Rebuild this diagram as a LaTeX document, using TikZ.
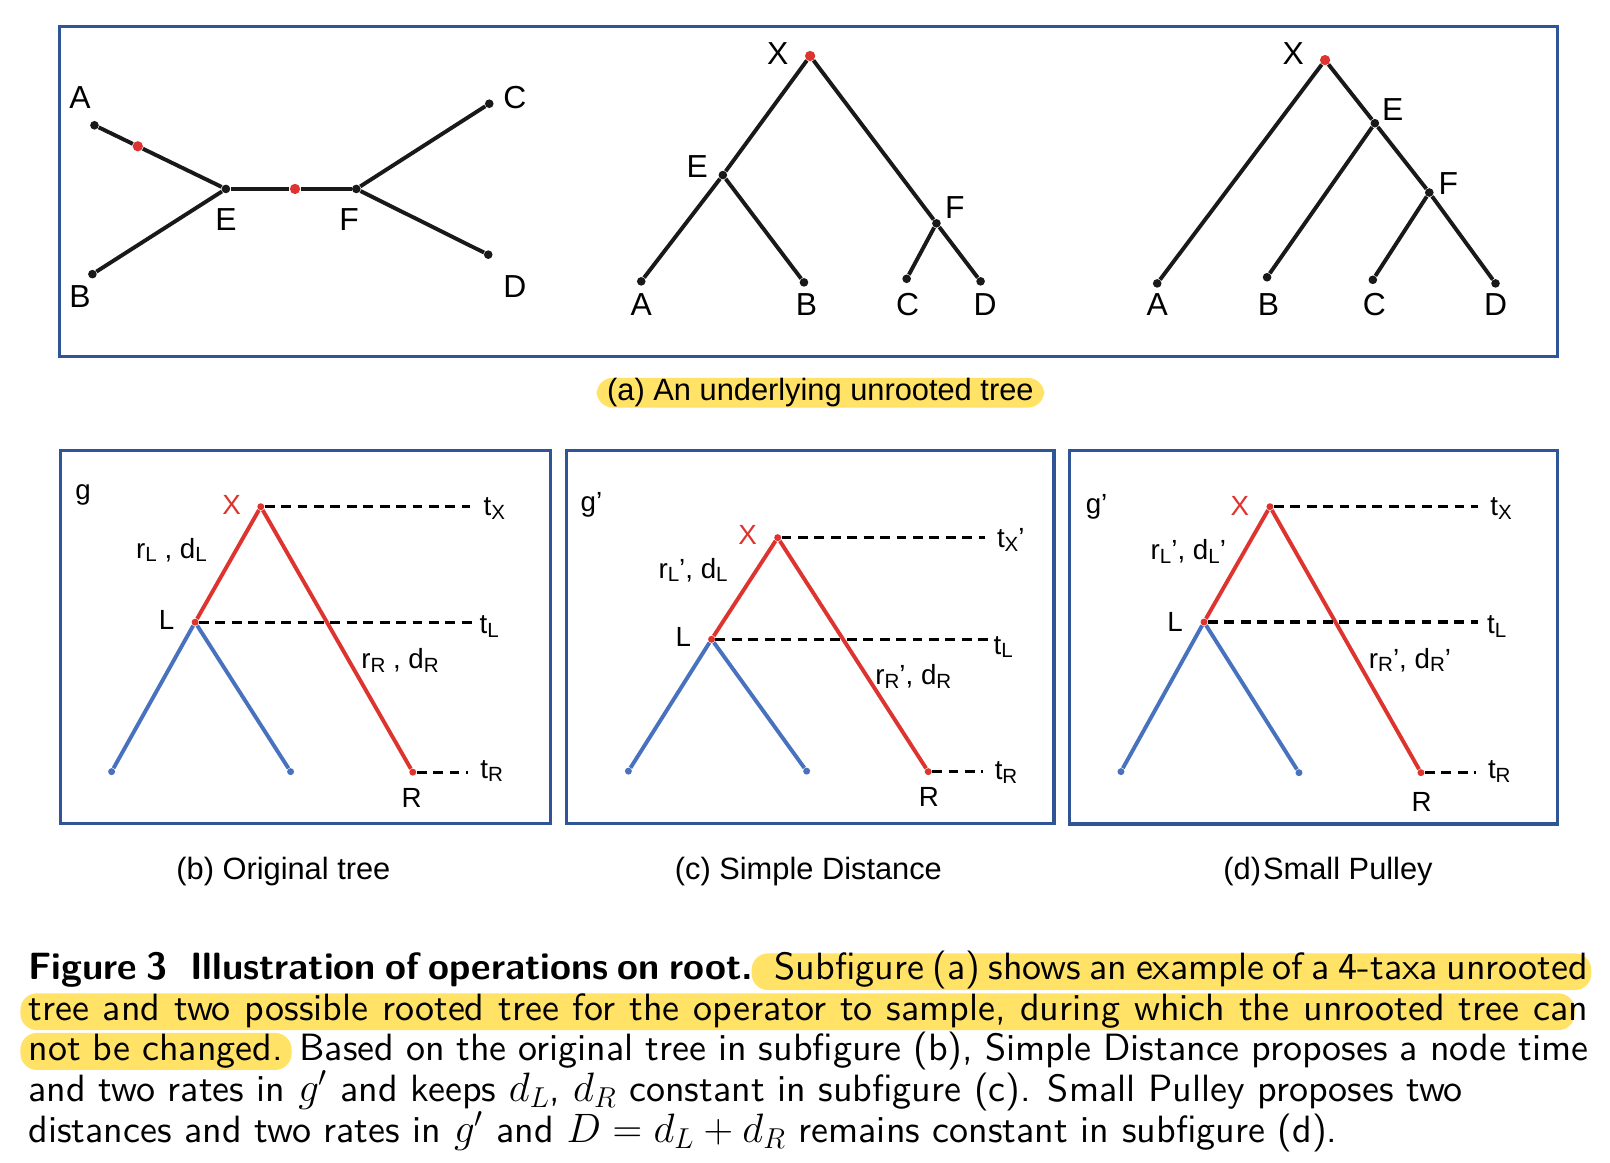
\RequirePackage{fix-cm}
\documentclass[tikz,border=0pt]{standalone}
\usepackage{fontspec}
\newfontfamily\arialfont{Liberation Sans}
\newfontfamily\capfont{lmsans10-regular}[Extension=.otf, BoldFont=lmsans10-bold]
\usetikzlibrary{calc}

\definecolor{boxblue}{RGB}{47,85,151}
\definecolor{rootred}{RGB}{222,52,47}
\definecolor{leafblue}{RGB}{72,114,190}
\definecolor{marker}{RGB}{255,226,102}

% lowered small index for the Arial labels
\newcommand{\sub}[1]{\raisebox{-1.8pt}{\fontsize{10}{10}\selectfont #1}}
% caption maths, set a little larger than the text
\newcommand{\capmath}[1]{{\fontsize{20}{19.8}\selectfont$#1$}}

\begin{document}
\begin{tikzpicture}[x=0.5pt,y=-0.5pt]
        \tikzstyle{frame}=[draw=boxblue, line width=1.5pt]
        \tikzstyle{dot}=[circle, fill=black!90, inner sep=0pt, minimum size=4.2pt]
        \tikzstyle{root}=[circle, fill=rootred, inner sep=0pt, minimum size=5pt]
        \tikzstyle{taxon}=[font=\arialfont\fontsize{15.5}{15.5}\selectfont, inner sep=0pt]
        \tikzstyle{branch}=[line width=1.9pt, draw=black!90]
        \tikzstyle{rdot}=[circle, fill=rootred, inner sep=0pt, minimum size=3.4pt]
        \tikzstyle{bdot}=[circle, fill=leafblue, inner sep=0pt, minimum size=3.4pt]
        \tikzstyle{lab}=[font=\arialfont\fontsize{13.5}{13.5}\selectfont, inner sep=0pt]
        \tikzstyle{timelab}=[lab, anchor=west]
        \tikzstyle{redline}=[line width=1.9pt, draw=rootred]
        \tikzstyle{blueline}=[line width=1.9pt, draw=leafblue]
        \tikzstyle{timeline}=[line width=1.6pt, dash pattern=on 4.8pt off 3.2pt]
        \tikzstyle{highlight}=[fill=marker, rounded corners=8pt]
        \tikzstyle{subcap}=[font=\arialfont\fontsize{15}{15}\selectfont, anchor=base, inner sep=0pt]

        \useasboundingbox (0,0) rectangle (1568,1132);

        % (a) unrooted tree and its two rootings
        \draw[frame] (57.5,26) rectangle (1516.5,347.5);

        \node[dot] (A) at (92,122) {};
        \node[dot] (B) at (90,267) {};
        \node[dot] (E) at (220,184) {};
        \node[dot] (F) at (347,184) {};
        \node[dot] (C) at (476.5,101) {};
        \node[dot] (D) at (475.5,248) {};
        \node[root] (ae) at ($(A)!0.33!(E)$) {};
        \node[root] (ef) at ($(E)!0.53!(F)$) {};
        \node[taxon] (Al) at (78,95) {A};
        \node[taxon] (Bl) at (78,289) {B};
        \node[taxon] (El) at (220,214) {E};
        \node[taxon] (Fl) at (340,214) {F};
        \node[taxon] (Cl) at (501.5,95) {C};
        \node[taxon] (Dl) at (501.5,279) {D};

        \draw[branch] (A) -- (ae) -- (E);
        \draw[branch] (E) -- (ef) -- (F);
        \draw[branch] (B) -- (E);
        \draw[branch] (F) -- (C);
        \draw[branch] (F) -- (D);

        \node[root] (X1) at (789,54.5) {};
        \node[dot] (E1) at (704,170.5) {};
        \node[dot] (F1) at (912,217.5) {};
        \node[dot] (A1) at (624.5,274) {};
        \node[dot] (B1) at (783,275) {};
        \node[dot] (C1) at (883,271.5) {};
        \node[dot] (D1) at (955,274) {};
        \node[taxon] (X1l) at (757.5,52) {X};
        \node[taxon] (E1l) at (679,162.5) {E};
        \node[taxon] (F1l) at (930,202) {F};
        \node[taxon] (A1l) at (624.5,297) {A};
        \node[taxon] (B1l) at (785.5,297) {B};
        \node[taxon] (C1l) at (884,297) {C};
        \node[taxon] (D1l) at (959.5,297) {D};

        \draw[branch] (A1) -- (E1) -- (X1) -- (F1) -- (D1);
        \draw[branch] (E1) -- (B1);
        \draw[branch] (F1) -- (C1);

        \node[root] (X2) at (1290.5,58.5) {};
        \node[dot] (E2) at (1339,120) {};
        \node[dot] (F2) at (1392,187.5) {};
        \node[dot] (A2) at (1127,276) {};
        \node[dot] (B2) at (1234,270) {};
        \node[dot] (C2) at (1337,272.5) {};
        \node[dot] (D2) at (1456.5,276) {};
        \node[taxon] (X2l) at (1259.5,52) {X};
        \node[taxon] (E2l) at (1356.5,106.5) {E};
        \node[taxon] (F2l) at (1410.5,178.5) {F};
        \node[taxon] (A2l) at (1127,297) {A};
        \node[taxon] (B2l) at (1235.5,297) {B};
        \node[taxon] (C2l) at (1338.5,297) {C};
        \node[taxon] (D2l) at (1456.5,297) {D};

        \draw[branch] (A2) -- (X2) -- (E2) -- (F2) -- (D2);
        \draw[branch] (E2) -- (B2);
        \draw[branch] (F2) -- (C2);

        \fill[highlight] (581,368) rectangle (1017,397);
        \node[subcap] (capa) at (799,390) {(a) An underlying unrooted tree};

        % (b) original tree
        \draw[frame] (58.5,439) rectangle (536.5,802);
        \node[rdot] (bX) at (254,493.5) {};
        \node[rdot] (bL) at (190,606) {};
        \node[rdot] (bR) at (402,752) {};
        \node[bdot] (bl1) at (108.7,751.5) {};
        \node[bdot] (bl2) at (283,751.5) {};
        \node[lab] (bg) at (81,482) {g};
        \node[lab, text=rootred] (bXl) at (225.5,492) {X};
        \node[lab] (bLl) at (162.3,604) {L};
        \node[lab] (bRl) at (401,777.5) {R};
        \node[lab] (brl) at (167,535.6) {r\sub{L} , d\sub{L}};
        \node[lab] (brr) at (389.6,643) {r\sub{R} , d\sub{R}};
        \node[timelab] (btx) at (470.7,495) {t\sub{X}};
        \node[timelab] (btl) at (466.8,610.3) {t\sub{L}};
        \node[timelab] (btr) at (467.5,751) {t\sub{R}};
        \coordinate (btxe) at (457.7,493.5);
        \coordinate (btle) at (462.6,606);
        \coordinate (btre) at (456.1,752);

        \draw[redline] (bL) -- (bX) -- (bR);
        \draw[blueline] (bl1) -- (bL) -- (bl2);
        \draw[timeline] (bX) -- (btxe);
        \draw[timeline] (bL) -- (btle);
        \draw[timeline] (bR) -- (btre);
        \node[subcap] (capb) at (276,857) {(b) Original tree};

        % (c) simple distance
        \draw[frame] (552,439) rectangle (1026.5,802);
        \node[rdot] (cX) at (757.4,523.6) {};
        \node[rdot] (cL) at (693,622.6) {};
        \node[rdot] (cR) at (904,751.5) {};
        \node[bdot] (cl1) at (612,751) {};
        \node[bdot] (cl2) at (785.6,751) {};
        \node[lab] (cg) at (576,492) {g’};
        \node[lab, text=rootred] (cXl) at (728,521) {X};
        \node[lab] (cLl) at (665.5,620) {L};
        \node[lab] (cRl) at (904.7,776) {R};
        \node[lab] (crl) at (675,555) {r\sub{L}’, d\sub{L}};
        \node[lab] (crr) at (889.5,659) {r\sub{R}’, d\sub{R}};
        \node[timelab] (ctx) at (970.6,526) {t\sub{X}’};
        \node[timelab] (ctl) at (967.4,630) {t\sub{L}};
        \node[timelab] (ctr) at (968.4,752.5) {t\sub{R}};
        \coordinate (ctxe) at (959.3,523.6);
        \coordinate (ctle) at (964.2,622.6);
        \coordinate (ctre) at (957.7,751.5);

        \draw[redline] (cL) -- (cX) -- (cR);
        \draw[blueline] (cl1) -- (cL) -- (cl2);
        \draw[timeline] (cX) -- (ctxe);
        \draw[timeline] (cL) -- (ctle);
        \draw[timeline] (cR) -- (ctre);
        \node[subcap] (capc) at (787.3,857) {(c) Simple Distance};

        % (d) small pulley
        \draw[frame] (1042,439) rectangle (1516.7,802.5);
        \node[rdot] (dX) at (1236.8,493.5) {};
        \node[rdot] (dL) at (1172.6,605.8) {};
        \node[rdot] (dR) at (1383.9,752.5) {};
        \node[bdot] (dl1) at (1091.7,751.5) {};
        \node[bdot] (dl2) at (1265.1,752.5) {};
        \node[lab] (dg) at (1068,493.4) {g’};
        \node[lab, text=rootred] (dXl) at (1207.6,492.8) {X};
        \node[lab] (dLl) at (1144.3,605.4) {L};
        \node[lab] (dRl) at (1384.6,780.7) {R};
        \node[lab] (drl) at (1157.3,537.3) {r\sub{L}’, d\sub{L}’};
        \node[lab] (drr) at (1373.2,642.8) {r\sub{R}’, d\sub{R}’};
        \node[timelab] (dtx) at (1451.1,495) {t\sub{X}};
        \node[timelab] (dtl) at (1447.9,610.3) {t\sub{L}};
        \node[timelab] (dtr) at (1448.8,751.5) {t\sub{R}};
        \coordinate (dtxe) at (1439.7,493.5);
        \coordinate (dtle) at (1439.7,605.8);
        \coordinate (dtre) at (1437.5,752.5);

        \draw[redline] (dL) -- (dX) -- (dR);
        \draw[blueline] (dl1) -- (dL) -- (dl2);
        \draw[timeline] (dX) -- (dtxe);
        \draw[timeline] (dL) -- (dtle);
        \draw[timeline] (dR) -- (dtre);
        \node[subcap] (capd) at (1293.4,857) {(d)\hspace{1pt}Small Pulley};

        % caption
        \fill[highlight] (732,928.5) rectangle (1549.8,964.2);
        \fill[highlight] (19.9,967.4) rectangle (1533.7,1003.2);
        \fill[highlight] (19.9,1006) rectangle (284,1042);
        \node[anchor=base west, inner sep=0pt, text width=759.5pt, align=justify,
              font=\capfont\fontsize{18.5}{19.8}\selectfont] (caption) at (27.3,954)
              {\textbf{Figure 3\hspace{0.6em}Illustration of operations on root.}\hspace{0.15em} Subfigure (a) shows an example of a 4-taxa unrooted\linebreak
               tree and two possible rooted tree for the operator to sample, during which the unrooted tree can\linebreak
               not be changed. Based on the original tree in subfigure (b), Simple Distance proposes a node time\linebreak
               and two rates in \capmath{g'} and keeps \capmath{d_L}, \capmath{d_R} constant in subfigure (c). Small Pulley proposes two\newline
               distances and two rates in \capmath{g'} and \capmath{D=d_L+d_R} remains constant in subfigure (d).};
\end{tikzpicture}
\end{document}
